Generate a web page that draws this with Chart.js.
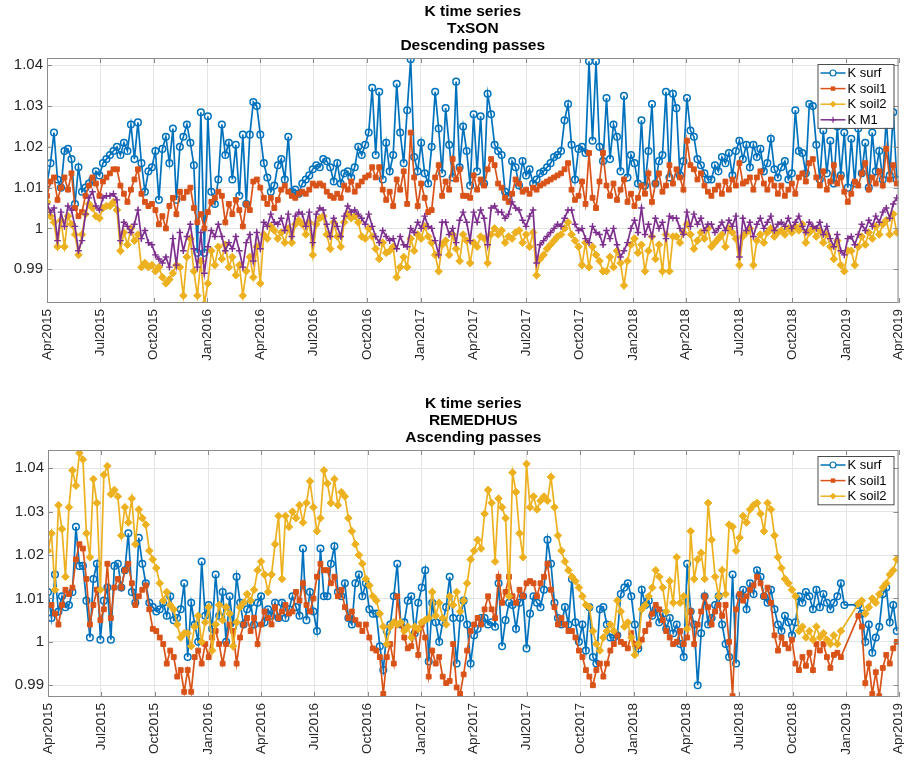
<!DOCTYPE html>
<html>
<head>
<meta charset="utf-8">
<script src="https://cdn.jsdelivr.net/npm/chart.js@4.4.0/dist/chart.umd.min.js"></script>
<style>
  body { margin: 0; background: #fff; }
  #wrap { position: relative; width: 904px; height: 761px; }
  canvas { position: absolute; left: 0; }
</style>
</head>
<body>
<div id="wrap">
  <canvas id="topChart" width="904" height="380" style="top:0"></canvas>
  <canvas id="bottomChart" width="904" height="381" style="top:380px"></canvas>
</div>
<script>
// days since 1 Apr 2015
const days = [
  0,6,12,18,24,30,36,42,48,54,
  60,66,72,78,84,90,96,102,108,114,
  120,126,132,138,144,150,156,162,168,174,
  180,186,192,198,204,210,216,222,228,234,
  240,246,252,258,264,270,276,282,288,294,
  300,306,312,318,324,330,336,342,348,354,
  360,366,372,378,384,390,396,402,408,414,
  420,426,432,438,444,450,456,462,468,474,
  480,486,492,498,504,510,516,522,528,534,
  540,546,552,558,564,570,576,582,588,594,
  600,606,612,618,624,630,636,642,648,654,
  660,666,672,678,684,690,696,702,708,714,
  720,726,732,738,744,750,756,762,768,774,
  780,786,792,798,804,810,816,822,828,834,
  840,846,852,858,864,870,876,882,888,894,
  900,906,912,918,924,930,936,942,948,954,
  960,966,972,978,984,990,996,1002,1008,1014,
  1020,1026,1032,1038,1044,1050,1056,1062,1068,1074,
  1080,1086,1092,1098,1104,1110,1116,1122,1128,1134,
  1140,1146,1152,1158,1164,1170,1176,1182,1188,1194,
  1200,1206,1212,1218,1224,1230,1236,1242,1248,1254,
  1260,1266,1272,1278,1284,1290,1296,1302,1308,1314,
  1320,1326,1332,1338,1344,1350,1356,1362,1368,1374,
  1380,1386,1392,1398,1404,1410,1416,1422,1428,1434,
  1440,1446,1452,1458
];

const quarterDays = [0,91,183,275,366,457,549,641,731,822,914,1006,1096,1187,1279,1371,1461];
const quarterLabels = ["Apr2015","Jul2015","Oct2015","Jan2016","Apr2016","Jul2016","Oct2016","Jan2017",
  "Apr2017","Jul2017","Oct2017","Jan2018","Apr2018","Jul2018","Oct2018","Jan2019","Apr2019"];
const yTicks = [0.99, 1, 1.01, 1.02, 1.03, 1.04];

// TxSON, descending passes
const surfTop = [
  1.011,1.016,1.0235,1.012,1.010,1.019,1.0195,1.017,1.006,1.015,
  1.009,1.010,1.011,1.012,1.014,1.013,1.016,1.017,1.018,1.019,
  1.020,1.018,1.021,1.019,1.0255,1.017,1.026,1.016,1.009,1.014,
  1.015,1.019,1.007,1.0195,1.0225,1.016,1.0245,1.007,1.020,1.0225,
  1.0255,1.021,1.0155,0.994,1.0285,0.994,1.0275,1.009,1.006,1.012,
  1.0255,1.018,1.021,1.012,1.0205,1.008,1.023,1.006,1.023,1.031,
  1.030,1.023,1.016,1.0125,1.009,1.0105,1.0155,1.017,1.012,1.0225,
  1.009,1.0095,1.0085,1.011,1.012,1.013,1.0145,1.0155,1.015,1.017,
  1.0165,1.015,1.0115,1.016,1.011,1.0135,1.014,1.0125,1.015,1.020,
  1.018,1.0205,1.0235,1.0345,1.018,1.0335,1.012,1.021,1.014,1.018,
  1.0355,1.0235,1.016,1.029,1.0415,1.0175,1.014,1.021,1.0135,1.011,
  1.020,1.0335,1.0245,1.0135,1.0295,1.0205,1.0125,1.036,1.015,1.025,
  1.019,1.0105,1.028,1.014,1.0275,1.011,1.033,1.028,1.0205,1.019,
  1.018,1.009,1.008,1.0165,1.015,1.0105,1.0165,1.013,1.0145,1.011,
  1.012,1.0135,1.014,1.015,1.016,1.0175,1.018,1.019,1.0265,1.0305,
  1.0205,1.012,1.0195,1.020,1.0185,1.041,1.0215,1.041,1.020,1.0165,
  1.032,1.017,1.0255,1.0225,1.014,1.0325,1.0125,1.018,1.016,1.011,
  1.0265,1.0105,1.019,1.0305,1.011,1.0165,1.018,1.0335,1.0125,1.033,
  1.0295,1.013,1.0165,1.032,1.024,1.0225,1.017,1.0155,1.0135,1.012,
  1.012,1.0155,1.014,1.0175,1.016,1.0185,1.013,1.019,1.0215,1.017,
  1.0205,1.015,1.0205,1.0175,1.0195,1.014,1.016,1.022,1.0145,1.0125,
  1.015,1.0165,1.012,1.0135,1.029,1.019,1.0185,1.0135,1.0305,1.030,
  1.0205,1.012,1.024,1.0135,1.0215,1.011,1.025,1.013,1.0235,1.010,
  1.022,1.011,1.0245,1.0135,1.021,1.010,1.0235,1.014,1.019,1.012,
  1.027,1.013,1.0285,1.012
];
const soil1Top = [
  1.008,1.0115,1.0125,1.007,1.010,1.0125,1.0095,1.0135,1.005,1.003,
  1.004,1.008,1.0105,1.0125,1.011,1.008,1.0115,1.0125,1.0135,1.0145,
  1.0145,1.0105,1.0085,1.0065,1.0095,1.012,1.0145,1.0085,1.0065,1.0055,
  1.006,1.0045,1.001,1.003,1.000,1.0055,1.0075,1.0035,1.009,1.0075,
  1.009,1.010,1.005,1.0015,1.0035,1.000,1.004,1.0065,1.0075,1.009,
  1.008,1.0015,1.006,1.0035,1.007,1.0045,1.0005,1.006,1.0045,1.0115,
  1.012,1.010,1.0075,1.006,1.0075,1.005,1.007,1.0095,1.0105,1.009,
  1.008,1.0075,1.0085,1.009,1.0085,1.0095,1.011,1.0105,1.011,1.0105,
  1.009,1.008,1.0075,1.0085,1.0075,1.0105,1.0095,1.0115,1.009,1.0105,
  1.0115,1.0125,1.013,1.015,1.0125,1.015,1.0095,1.007,1.009,1.0055,
  1.012,1.0095,1.014,1.006,1.0235,1.0125,1.0055,1.011,1.0075,1.004,
  1.0045,1.0125,1.0155,1.008,1.0115,1.0095,1.017,1.012,1.0145,1.008,
  1.008,1.0075,1.013,1.0095,1.012,1.0105,1.0145,1.017,1.0155,1.011,
  1.010,1.0075,1.0065,1.0085,1.012,1.011,1.009,1.0095,1.0085,1.010,
  1.0095,1.0105,1.011,1.0115,1.012,1.0125,1.013,1.0135,1.0145,1.016,
  1.0095,1.007,1.008,1.0115,1.006,1.0185,1.0075,1.005,1.0115,1.0185,
  1.0105,1.008,1.011,1.007,1.0095,1.012,1.0065,1.0085,1.0055,1.0075,
  1.0105,1.0085,1.0135,1.0065,1.011,1.0135,1.009,1.0105,1.0155,1.011,
  1.0145,1.0125,1.0095,1.0215,1.0155,1.0145,1.012,1.0135,1.0105,1.009,
  1.008,1.0095,1.0105,1.0085,1.0115,1.0095,1.012,1.0105,1.016,1.011,
  1.0115,1.0125,1.0095,1.0125,1.014,1.011,1.0095,1.012,1.0105,1.0085,
  1.0105,1.008,1.0095,1.011,1.0085,1.0125,1.0135,1.0115,1.016,1.017,
  1.0125,1.0105,1.014,1.0095,1.0115,1.0155,1.011,1.0125,1.009,1.0065,
  1.0085,1.0115,1.0105,1.0135,1.016,1.0095,1.0125,1.011,1.014,1.0105,
  1.0195,1.012,1.0155,1.011
];
const soil2Top = [
  1.0065,1.003,1.0015,0.9955,1.002,0.9955,1.003,1.001,0.9985,0.9935,
  0.9985,1.0035,1.006,1.005,1.003,1.0025,1.005,1.0055,1.0055,1.0065,
  1.0045,0.9945,0.999,0.996,1.000,0.997,0.9985,0.9905,0.9915,0.9905,
  0.991,0.9895,0.9905,0.988,0.9865,0.9875,0.989,0.991,0.9905,0.9835,
  0.993,0.9975,0.9895,0.9835,0.992,0.9815,0.9865,0.9945,0.991,0.9955,
  0.9925,0.996,0.9905,0.993,0.9885,0.991,0.9835,0.9895,0.993,0.988,
  0.9955,0.9865,0.9985,0.9975,1.0005,0.9995,0.9975,0.999,0.9965,1.000,
  0.9965,1.001,1.002,1.001,0.9985,1.0015,0.9935,1.001,1.0025,1.003,
  0.9985,0.995,1.0015,0.998,0.9955,1.0015,1.0035,1.0025,1.003,1.0015,
  0.998,0.9975,1.000,0.998,0.995,0.9925,0.9965,0.994,0.9945,0.9955,
  0.988,0.9905,0.993,0.9905,0.9975,0.9945,0.9985,0.9975,1.0005,0.998,
  0.9965,0.9935,0.9895,0.996,0.997,0.9935,0.9985,0.995,0.992,0.9985,
  0.997,0.9915,0.9965,0.9955,0.998,0.9975,0.9915,0.9985,1.000,0.9985,
  0.9995,0.9965,0.998,0.9975,0.999,0.9995,0.9965,0.9985,0.9955,0.999,
  0.9885,0.9925,0.9935,0.995,0.996,0.997,0.998,0.9985,1.000,1.0015,
  0.9985,0.997,0.9955,0.991,0.9965,0.9905,0.9955,0.9935,0.992,0.9895,
  0.9895,0.993,0.9905,0.9945,0.9915,0.986,0.992,0.996,0.9975,0.994,
  0.996,0.9895,0.9945,0.998,0.9925,0.996,0.9895,0.9985,0.9895,0.998,
  0.998,0.9965,0.999,1.001,0.9985,0.995,0.997,0.999,0.9975,1.000,
  0.9955,0.9965,0.9975,0.9985,0.9955,1.000,0.999,0.9975,0.991,0.998,
  0.999,1.000,0.991,0.997,0.9985,0.9965,0.999,1.000,0.998,0.999,
  0.9995,0.9985,1.000,0.999,1.0005,0.9995,1.001,0.9965,0.999,1.000,
  0.998,0.9995,0.9965,0.9985,0.9955,0.9925,0.997,0.991,0.9895,0.9945,
  0.9945,0.991,0.9955,0.998,0.996,0.999,0.9975,1.0005,0.9985,1.001,
  1.002,0.9985,1.0035,0.999
];
const m1Top = [
  1.006,1.004,1.005,0.997,1.004,1.0005,1.0055,1.0045,1.0005,0.9945,
  0.997,1.0035,1.0075,1.009,1.0055,1.0045,1.0075,1.008,1.008,1.0085,
  1.007,0.997,1.0015,1.0005,0.999,1.001,1.0045,0.9975,0.9995,0.9965,
  0.996,0.9935,0.9925,0.9915,0.993,0.9905,0.9975,0.991,0.999,0.9945,
  0.998,1.001,0.995,0.9905,0.999,0.989,0.9955,0.9995,0.998,1.001,
  0.998,0.9945,0.9965,0.995,0.998,0.9945,0.9905,0.9965,0.9985,0.992,
  0.999,0.995,1.0015,1.0005,1.0035,1.0015,1.001,1.0025,0.9995,1.0035,
  0.998,1.003,1.004,1.0035,1.0005,1.004,0.9965,1.0035,1.005,1.0045,
  1.001,0.998,1.0025,1.0005,0.998,1.003,1.0055,1.004,1.0045,1.0035,
  1.0025,1.001,1.0035,1.0005,0.998,0.9965,0.9995,0.998,0.997,0.9975,
  0.995,0.998,0.996,0.9955,1.000,0.999,1.0015,1.000,1.003,1.0005,
  1.000,0.997,0.9935,1.0015,1.0015,0.9985,1.000,0.9965,1.002,1.004,
  1.0015,0.997,1.004,1.0015,1.0045,1.0025,0.996,1.005,1.0055,1.004,
  1.004,1.0025,1.0035,1.0065,1.005,1.0045,1.002,1.0005,1.003,1.0045,
  0.9915,0.996,0.997,0.998,0.999,1.000,1.001,1.0005,1.0025,1.0045,
  1.0045,1.001,0.9995,1.000,0.9975,0.9965,1.0005,0.999,0.9985,0.996,
  0.9995,0.9975,1.000,0.996,0.993,0.9945,0.9965,1.000,1.002,0.999,
  1.005,0.9985,1.001,0.998,1.0025,1.000,1.0015,0.9975,1.003,1.0025,
  1.0025,1.000,0.9985,1.004,1.0005,1.0035,1.001,1.0025,0.9995,1.001,
  1.001,0.999,1.000,1.0015,0.9995,1.002,1.0005,1.003,0.993,1.0025,
  0.9995,1.0015,0.998,1.001,1.0025,1.000,1.0015,1.003,0.9995,1.001,
  1.0015,1.0005,1.0025,1.000,1.0015,1.003,1.0005,0.999,1.0015,1.0005,
  1.000,1.0015,0.9985,1.0005,0.9975,0.9955,0.9985,0.9945,0.9935,0.9975,
  0.998,0.996,0.9985,1.001,0.9995,1.002,1.0005,1.003,1.0015,1.004,
  1.005,1.0025,1.006,1.0075
];

// REMEDHUS, ascending passes (null = no acquisition)
const surfBot = [
  1.0115,1.0055,1.0155,1.007,1.0105,1.008,1.0085,1.0115,1.0265,1.0175,
  1.0175,1.0095,1.001,1.0145,1.018,1.0005,1.0095,1.0125,1.0005,1.0175,
  1.018,1.0125,1.0165,1.025,1.0115,1.009,1.024,1.018,1.0135,1.009,
  1.008,1.007,1.0075,1.009,1.006,1.0105,1.005,1.0055,1.0075,1.0135,
  0.9965,1.009,1.004,1.000,1.0185,1.006,1.0085,1.003,1.0155,1.006,
  1.0115,1.000,1.0105,1.0035,1.015,1.009,1.004,1.0075,1.009,1.004,
  1.009,1.0105,1.0045,1.0075,1.006,1.009,1.0055,1.009,1.0055,1.0075,
  1.0105,1.008,1.006,1.0215,1.005,1.0115,1.007,1.0025,1.0215,1.0105,
  1.0105,1.018,1.022,1.0115,1.0105,1.0135,1.0055,1.004,1.0135,1.0155,
  1.0105,1.0135,1.0075,1.0065,1.0065,0.999,0.9935,1.0025,1.004,1.0105,
  1.018,1.004,1.0045,1.0095,1.0105,1.002,1.009,1.0125,1.0165,0.9955,
  1.009,1.0045,1.000,1.0045,1.008,1.015,1.0055,0.995,1.0055,1.0095,
  1.004,0.995,1.0015,1.003,1.0055,1.0055,1.004,1.0045,1.0035,1.0135,
  0.999,1.005,1.009,1.0085,1.003,1.009,1.0105,0.9985,1.0065,1.0105,
  1.009,1.008,1.012,1.0235,1.018,1.009,1.0055,1.004,1.008,1.004,
  1.0145,1.0045,1.000,1.004,0.998,1.008,0.9965,0.995,1.0075,1.008,
  1.004,1.001,1.001,1.0015,1.011,1.0125,1.0135,1.0105,1.004,0.9985,
  1.012,1.0085,1.0095,1.006,1.0075,1.0045,1.0065,1.003,1.0055,1.002,
  1.004,0.9995,0.9965,1.018,1.007,1.004,0.990,1.002,1.0105,1.004,
  1.0055,1.0085,1.0105,1.004,0.9995,0.9965,1.0155,0.995,1.0105,1.012,
  1.0075,1.0135,1.011,1.0165,1.015,1.0105,1.009,1.012,1.0075,1.004,
  1.0025,1.006,1.0045,1.0015,1.0045,1.0105,1.009,1.0115,1.0105,1.0075,
  1.012,1.008,1.011,1.009,1.0075,1.009,1.0105,1.0135,1.0085,null,
  null,null,1.0085,1.0065,1.000,1.004,0.9975,1.001,1.0035,1.011,
  1.0125,1.0045,1.0085,1.0025
];
const soil1Bot = [
  1.0085,1.0085,1.0065,1.004,1.0085,1.012,1.011,1.0125,1.019,1.0225,
  1.0215,1.0145,1.004,1.0085,1.012,1.005,1.0075,1.018,1.0055,1.0125,
  1.0145,1.0125,1.0165,1.018,1.0135,1.0085,1.0105,1.012,1.013,1.0075,
  1.003,1.0025,1.001,0.9995,0.995,0.998,0.9965,0.992,0.9935,0.9885,
  0.9935,0.9885,0.9965,0.998,0.995,0.9995,0.9965,1.001,1.0025,0.9995,
  0.995,0.9995,1.004,1.0025,0.995,1.001,1.004,1.0055,1.0025,1.0055,
  0.9995,1.004,1.007,1.0055,1.004,1.008,1.0055,1.007,1.0085,1.0065,
  1.007,1.0115,1.0095,1.0135,1.0085,1.007,1.010,1.015,1.018,1.0165,
  1.0165,1.0135,1.015,1.0105,1.012,1.008,1.0055,1.007,1.005,1.004,
  1.0025,1.004,1.001,0.9985,0.998,0.9965,0.988,0.9965,0.9995,0.995,
  1.0105,1.004,1.001,0.9985,0.999,1.0025,0.997,1.004,1.001,0.992,
  0.998,0.995,0.9965,0.992,0.9905,0.991,0.9995,0.9895,0.988,0.9925,
  0.998,1.0025,1.004,1.0055,1.004,1.0075,1.0105,1.0075,1.0055,1.015,
  1.009,1.0115,1.015,1.0105,1.009,1.012,1.0105,1.0135,1.014,1.0135,
  1.0105,1.0135,1.015,1.018,1.012,1.008,1.004,1.0055,1.004,1.0025,
  1.0025,1.001,0.998,0.9965,0.9935,0.992,0.990,0.9935,0.995,0.992,
  0.995,0.998,0.9995,1.0015,1.000,0.9995,0.9985,1.002,0.9995,0.999,
  1.0005,1.0025,1.004,1.0065,1.0085,1.0075,1.005,1.0025,1.001,0.9995,
  1.000,1.0025,0.9995,1.001,1.007,0.9995,1.004,1.007,1.0105,1.008,
  1.004,1.007,1.0085,1.006,1.0085,1.000,0.9875,1.0075,1.011,1.0095,
  1.0105,1.012,1.013,1.015,1.0135,1.0105,1.0125,1.009,1.0015,0.998,
  1.001,0.9995,0.9985,1.0005,0.995,0.9935,0.9965,0.9945,0.9975,0.9935,
  0.9995,0.998,0.9995,0.9965,0.994,0.997,0.9975,0.9965,null,null,
  null,null,1.006,1.0035,0.9905,0.995,0.988,0.993,0.9875,0.994,
  0.997,0.995,0.9985,1.000
];
const soil2Bot = [
  1.021,1.025,1.012,1.0315,1.026,1.015,1.031,1.0395,1.036,1.0435,
  1.042,1.025,1.0195,1.0375,1.032,1.012,1.0385,1.0405,1.034,1.035,
  1.0335,1.0245,1.031,1.0275,1.033,1.0225,1.0305,1.0285,1.027,1.021,
  1.019,1.017,1.0135,1.0095,1.0115,1.0085,1.0075,1.004,1.001,1.002,
  1.002,0.999,1.0035,1.006,1.000,1.0045,1.008,0.998,1.004,1.0085,
  1.005,1.008,1.0065,0.999,1.0045,1.008,1.009,1.011,1.0095,1.012,
  1.0165,1.0185,1.0155,1.0115,1.0155,1.0225,1.029,1.0145,1.029,1.0265,
  1.030,1.0285,1.0315,1.0275,1.032,1.037,1.031,1.0255,1.0285,1.0395,
  1.0365,1.032,1.0375,1.0315,1.0345,1.0335,1.0285,1.0255,1.0225,1.020,
  1.018,1.0145,1.013,1.0105,1.0095,1.0065,1.0035,0.9995,1.0035,1.0045,
  1.004,1.0045,1.0025,1.0035,1.001,1.0035,1.003,1.0045,1.005,1.0055,
  1.0115,1.006,1.009,1.0055,1.004,1.0105,1.0085,1.0115,1.007,1.0095,
  1.0135,1.019,1.021,1.0235,1.0215,1.0295,1.035,1.032,1.0185,1.033,
  1.031,1.0285,1.0105,1.039,1.0345,1.025,1.0195,1.041,1.031,1.0335,
  1.0305,1.0325,1.0335,1.0325,1.038,1.031,1.0245,1.021,1.0185,1.0165,
  1.015,1.014,1.0125,1.0105,1.0085,1.008,1.0025,0.9995,0.998,1.001,
  1.0025,1.004,1.0025,1.0095,1.007,1.0035,1.0045,1.001,0.997,0.9995,
  1.0075,1.0085,1.0105,1.0125,1.0165,1.015,1.0125,1.007,1.014,1.009,
  1.0195,1.009,1.0105,1.003,1.0255,1.0145,1.019,1.0205,1.0145,1.032,
  1.0235,1.015,1.0105,1.0165,1.011,1.027,1.0265,1.021,1.024,1.029,
  1.0275,1.0305,1.0315,1.032,1.0295,1.0255,1.032,1.0305,1.0245,1.0195,
  1.017,1.0145,1.0135,1.012,1.0105,1.0025,1.0035,1.001,1.0025,1.0005,
  1.0035,1.001,1.002,1.0005,0.9995,1.0015,0.9995,1.0025,null,null,
  null,null,1.0088,1.0095,1.0065,1.008,1.010,1.009,1.011,1.0125,
  1.0135,1.0155,1.0165,1.019
];

const BLUE = "#0072BD";
const ORANGE = "#D95319";
const YELLOW = "#EDB120";
const PURPLE = "#7E2F8E";
const FONT = "'Liberation Sans', Arial, sans-serif";

const MARKERS = {
  circle: { style: "circle", radius: 3.3, border: 1.5, fill: false },
  square: { style: "rect", radius: 3.4, border: 1, fill: true },
  diamond: { style: "rectRot", radius: 3.8, border: 1, fill: true },
  plus: { style: "cross", radius: 3.3, border: 1.4, fill: false }
};

function toPoints(values) {
  return days.map((d, i) => ({ x: d, y: values[i] }));
}

function makeDataset(label, values, color, marker, order) {
  return {
    label: label,
    data: toPoints(values),
    borderColor: color,
    backgroundColor: color,
    borderWidth: 1.7,
    pointStyle: marker.style,
    pointRadius: marker.radius,
    pointBorderWidth: marker.border,
    pointBorderColor: color,
    pointBackgroundColor: marker.fill ? color : "rgba(255,255,255,0)",
    tension: 0,
    spanGaps: true,
    order: order
  };
}

// axes box + inward tick marks, matlab style
const framePlugin = {
  id: "frame",
  afterDatasetsDraw(chart) {
    const { ctx, chartArea: a, scales } = chart;
    ctx.save();
    ctx.strokeStyle = "#8c8c8c";
    ctx.lineWidth = 1;
    ctx.strokeRect(a.left + 0.5, a.top + 0.5, a.right - a.left - 1, a.bottom - a.top - 1);
    ctx.beginPath();
    quarterDays.forEach((d) => {
      const x = Math.round(scales.x.getPixelForValue(d)) + 0.5;
      ctx.moveTo(x, a.bottom); ctx.lineTo(x, a.bottom - 5);
      ctx.moveTo(x, a.top); ctx.lineTo(x, a.top + 5);
    });
    yTicks.forEach((v) => {
      const y = Math.round(scales.y.getPixelForValue(v)) + 0.5;
      ctx.moveTo(a.left, y); ctx.lineTo(a.left + 5, y);
      ctx.moveTo(a.right, y); ctx.lineTo(a.right - 5, y);
    });
    ctx.stroke();
    ctx.restore();
  }
};

const titlePlugin = {
  id: "stackTitle",
  afterDraw(chart, args, opts) {
    const { ctx, chartArea: a } = chart;
    const cx = (a.left + a.right) / 2;
    ctx.save();
    ctx.fillStyle = "#000";
    ctx.font = "bold 15.5px " + FONT;
    ctx.textAlign = "center";
    ctx.textBaseline = "middle";
    opts.lines.forEach((t, i) => ctx.fillText(t, cx, a.top - 46.5 + i * 17.2));
    ctx.restore();
  }
};

function drawMarker(ctx, kind, x, y, color) {
  ctx.fillStyle = color;
  ctx.strokeStyle = color;
  ctx.lineWidth = 1.2;
  ctx.beginPath();
  if (kind === "circle") {
    ctx.arc(x, y, 3, 0, Math.PI * 2);
    ctx.fillStyle = "#fff";
    ctx.fill();
    ctx.stroke();
  } else if (kind === "square") {
    ctx.rect(x - 2.2, y - 2.2, 4.4, 4.4);
    ctx.fill();
  } else if (kind === "diamond") {
    ctx.moveTo(x, y - 3.4); ctx.lineTo(x + 3.4, y); ctx.lineTo(x, y + 3.4); ctx.lineTo(x - 3.4, y);
    ctx.closePath();
    ctx.fill();
  } else {
    ctx.moveTo(x - 3, y); ctx.lineTo(x + 3, y);
    ctx.moveTo(x, y - 3); ctx.lineTo(x, y + 3);
    ctx.stroke();
  }
}

const legendPlugin = {
  id: "boxLegend",
  afterDraw(chart, args, opts) {
    const { ctx, chartArea: a } = chart;
    const items = opts.items;
    const rowH = 15.6;
    const w = 76;
    const h = items.length * rowH + 1.5;
    const right = a.right - 5;
    const left = right - w;
    const top = a.top + 6;
    ctx.save();
    ctx.fillStyle = "#fff";
    ctx.fillRect(left, top, w, h);
    ctx.strokeStyle = "#4d4d4d";
    ctx.lineWidth = 1;
    ctx.strokeRect(left + 0.5, top + 0.5, w, h);
    items.forEach((it, i) => {
      const y = top + 9 + i * rowH;
      ctx.strokeStyle = it.color;
      ctx.lineWidth = 1.5;
      ctx.beginPath();
      ctx.moveTo(left + 3, y);
      ctx.lineTo(left + 28, y);
      ctx.stroke();
      drawMarker(ctx, it.marker, left + 15.5, y, it.color);
      ctx.fillStyle = "#000";
      ctx.font = "13px " + FONT;
      ctx.textAlign = "left";
      ctx.textBaseline = "middle";
      ctx.fillText(it.label, left + 30, y + 0.5);
    });
    ctx.restore();
  }
};

function makeOptions(cfg) {
  return {
    responsive: false,
    animation: false,
    events: [],
    layout: { padding: { top: cfg.padTop, right: 2, left: 0, bottom: 0 } },
    plugins: {
      legend: { display: false },
      tooltip: { enabled: false },
      stackTitle: { lines: cfg.title },
      boxLegend: { items: cfg.legend }
    },
    scales: {
      x: {
        type: "linear",
        min: 0,
        max: 1461,
        afterBuildTicks: (s) => { s.ticks = quarterDays.map((v) => ({ value: v })); },
        afterFit: (s) => {
          s.height = cfg.xHeight;
          s.paddingLeft = 0;
          s.paddingRight = 0;
        },
        grid: { color: "#e4e4e4", drawTicks: false },
        border: { display: false },
        ticks: {
          autoSkip: false,
          minRotation: 90,
          maxRotation: 90,
          padding: 6,
          color: "#262626",
          font: { family: FONT, size: 13.5 },
          callback: (v) => quarterLabels[quarterDays.indexOf(v)]
        }
      },
      y: {
        type: "linear",
        min: cfg.yMin,
        max: cfg.yMax,
        afterBuildTicks: (s) => { s.ticks = yTicks.map((v) => ({ value: v })); },
        afterFit: (s) => {
          s.width = cfg.yWidth;
          s.paddingTop = 0;
          s.paddingBottom = 0;
        },
        grid: { color: "#e4e4e4", drawTicks: false },
        border: { display: false },
        ticks: {
          padding: 4,
          color: "#262626",
          font: { family: FONT, size: 15 },
          callback: (v) => String(Math.round(v * 100) / 100)
        }
      }
    }
  };
}

new Chart(document.getElementById("topChart"), {
  type: "line",
  data: {
    datasets: [
      makeDataset("K surf", surfTop, BLUE, MARKERS.circle, 4),
      makeDataset("K soil1", soil1Top, ORANGE, MARKERS.square, 3),
      makeDataset("K soil2", soil2Top, YELLOW, MARKERS.diamond, 2),
      makeDataset("K M1", m1Top, PURPLE, MARKERS.plus, 1)
    ]
  },
  options: makeOptions({
    padTop: 58, xHeight: 77, yWidth: 47, yMin: 0.9817, yMax: 1.0418,
    title: ["K time series", "TxSON", "Descending passes"],
    legend: [
      { label: "K surf", color: BLUE, marker: "circle" },
      { label: "K soil1", color: ORANGE, marker: "square" },
      { label: "K soil2", color: YELLOW, marker: "diamond" },
      { label: "K M1", color: PURPLE, marker: "plus" }
    ]
  }),
  plugins: [framePlugin, titlePlugin, legendPlugin]
});

new Chart(document.getElementById("bottomChart"), {
  type: "line",
  data: {
    datasets: [
      makeDataset("K surf", surfBot, BLUE, MARKERS.circle, 3),
      makeDataset("K soil1", soil1Bot, ORANGE, MARKERS.square, 2),
      makeDataset("K soil2", soil2Bot, YELLOW, MARKERS.diamond, 1)
    ]
  },
  options: makeOptions({
    padTop: 70, xHeight: 64, yWidth: 48, yMin: 0.9873, yMax: 1.0442,
    title: ["K time series", "REMEDHUS", "Ascending passes"],
    legend: [
      { label: "K surf", color: BLUE, marker: "circle" },
      { label: "K soil1", color: ORANGE, marker: "square" },
      { label: "K soil2", color: YELLOW, marker: "diamond" }
    ]
  }),
  plugins: [framePlugin, titlePlugin, legendPlugin]
});
</script>
</body>
</html>
